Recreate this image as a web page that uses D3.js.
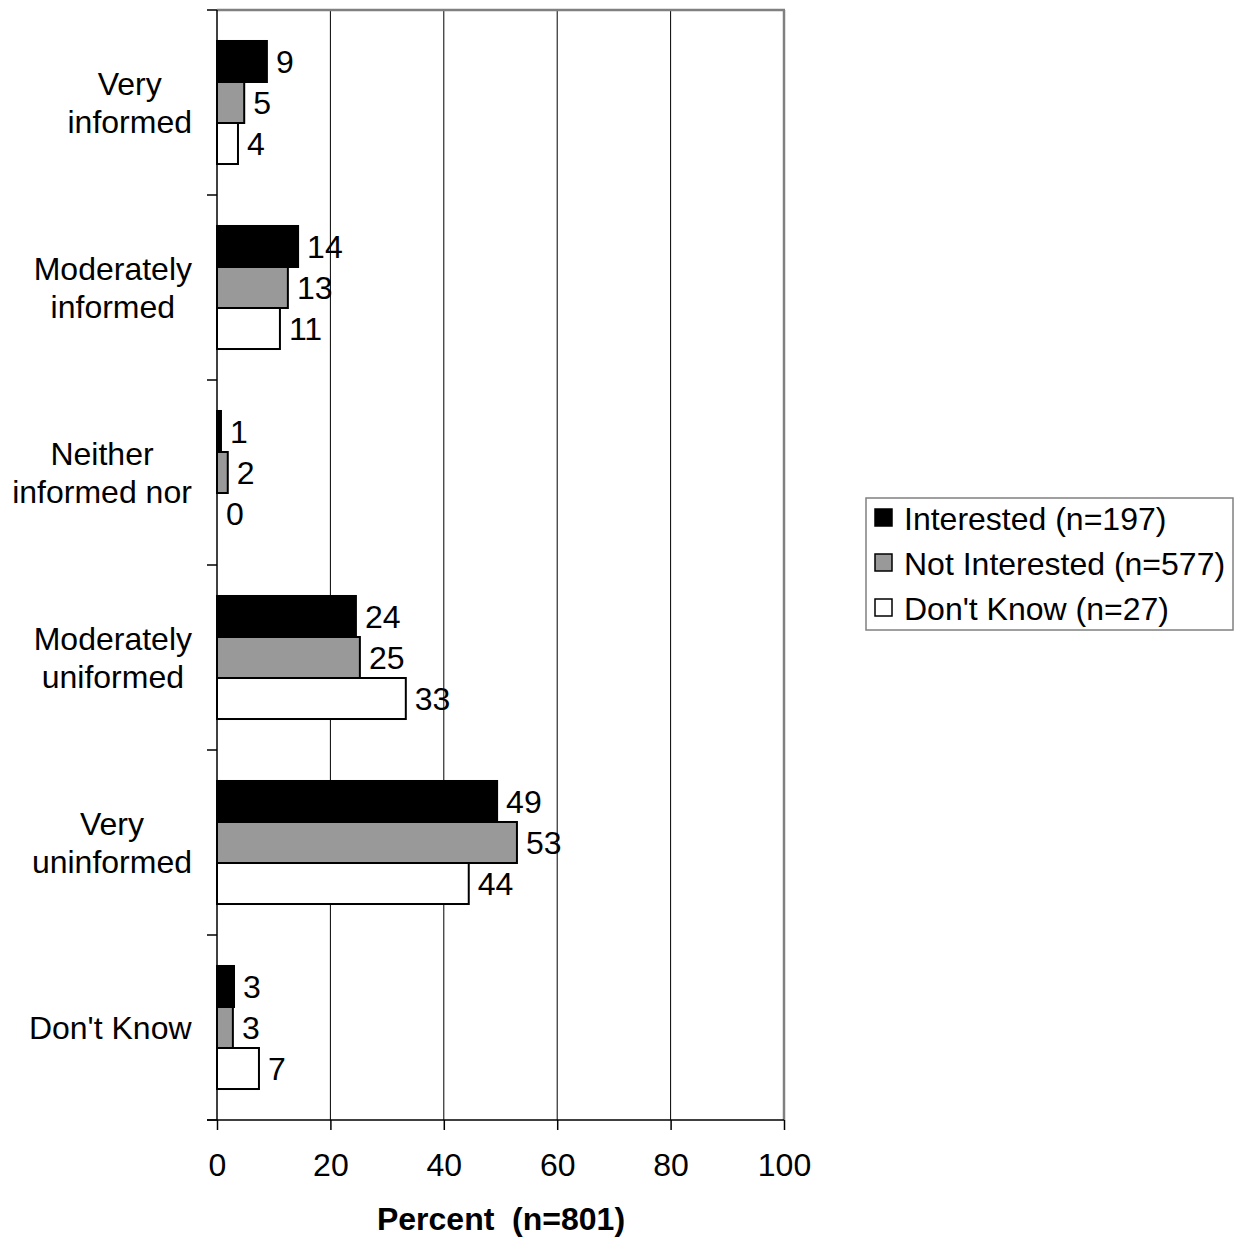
<!DOCTYPE html>
<html><head><meta charset="utf-8">
<script src="https://cdn.jsdelivr.net/npm/d3@7"></script>
<style>body{margin:0;background:#fff}svg{display:block}text{font-family:Arial,"Liberation Sans",sans-serif}</style>
</head><body>
<svg id="c" width="1235" height="1237"></svg>
<script>
const categories = [["Very","informed"],["Moderately","informed"],["Neither","informed nor"],["Moderately","uniformed"],["Very","uninformed"],["Don't Know"]];
const seriesNames = ["Interested (n=197)","Not Interested (n=577)","Don't Know (n=27)"];
const interested = [8.8, 14.3, 0.7, 24.5, 49.4, 3.0];
const notInterested = [4.8, 12.5, 1.9, 25.2, 52.9, 2.8];
const dontKnow = [3.7, 11.1, 0, 33.3, 44.4, 7.4];
const valueLabels = [[9,5,4],[14,13,11],[1,2,0],[24,25,33],[49,53,44],[3,3,7]];
const xTicks = [0,20,40,60,80,100];
const colors = ["#000000","#999999","#ffffff"];

const FS = 32;
const svg = d3.select("#c");
const L=217, R=784, T=10, B=1120;
const x = d3.scaleLinear().domain([0,100]).range([L,R]);
const y = d3.scaleBand().domain(d3.range(categories.length)).range([T,B]).paddingInner(0.335).paddingOuter(0.1675);
const ys = d3.scaleBand().domain([0,1,2]).range([0,y.bandwidth()]);
const series = [interested, notInterested, dontKnow];

// grid
svg.append("g").selectAll("line").data([20,40,60,80]).join("line")
  .attr("x1",d=>x(d)).attr("x2",d=>x(d)).attr("y1",T).attr("y2",B)
  .attr("stroke","#000").attr("stroke-width",1);
// top and right border
svg.append("line").attr("x1",L).attr("x2",R+1).attr("y1",T).attr("y2",T).attr("stroke","#808080").attr("stroke-width",2.5);
svg.append("line").attr("x1",R).attr("x2",R).attr("y1",T).attr("y2",B).attr("stroke","#808080").attr("stroke-width",2.5);

// bars
const g = svg.append("g");
categories.forEach((c,i)=>{
  series.forEach((s,j)=>{
    const v = s[i];
    const by = y(i)+ys(j);
    if (v>0) {
      g.append("rect").attr("x",x(0)).attr("y",by).attr("width",x(v)-x(0)).attr("height",ys.bandwidth())
        .attr("fill",colors[j]).attr("stroke","#000").attr("stroke-width",2);
    }
    g.append("text").attr("x",x(v)+9).attr("y",by+ys.bandwidth()/2).attr("dy","0.36em")
      .attr("font-size",FS).text(d3.format(".0f")(valueLabels[i][j]));
  });
});

// axes
const yAxisG = svg.append("g").attr("transform",`translate(${L},0)`);
yAxisG.append("line").attr("x1",0).attr("x2",0).attr("y1",T).attr("y2",B).attr("stroke","#000").attr("stroke-width",1.5);
const yTickPos = d3.range(categories.length+1).map(i=>T+(B-T)*i/categories.length);
yAxisG.selectAll("line.t").data(yTickPos).join("line").attr("class","t")
  .attr("x1",-10).attr("x2",0).attr("y1",d=>d).attr("y2",d=>d).attr("stroke","#000").attr("stroke-width",1.5);

const xAxis = d3.axisBottom(x).tickValues(xTicks).tickSize(10).tickPadding(23).tickFormat(d3.format("d"));
const xg = svg.append("g").attr("transform",`translate(0,${B})`).call(xAxis);
xg.select(".domain").attr("stroke","#000").attr("stroke-width",1.5).attr("d",`M${L-10},0H${R}`);
xg.selectAll(".tick line").attr("stroke","#000").attr("stroke-width",1.5);
xg.selectAll(".tick text").attr("font-size",FS).attr("font-family","Arial, 'Liberation Sans', sans-serif").attr("fill","#000");

svg.append("text").attr("x",501).attr("y",1230).attr("text-anchor","middle").attr("font-size",FS).attr("font-weight","bold")
  .attr("xml:space","preserve").style("white-space","pre").text("Percent  (n=801)");

// category labels
categories.forEach((lines,i)=>{
  const cy = y(i)+y.bandwidth()/2;
  const t = svg.append("text").attr("font-size",FS).attr("text-anchor","middle");
  const tmp = [];
  lines.forEach((ln,k)=>{
    tmp.push(t.append("tspan").attr("x",0).attr("y",cy + (k-(lines.length-1)/2)*38).attr("dy","0.36em").text(ln));
  });
  const w = t.node().getBBox().width;
  const cx = 192 - w/2;
  tmp.forEach(s=>s.attr("x",cx));
});

// legend
const lg = svg.append("g").attr("transform","translate(866,498)");
lg.append("rect").attr("x",0).attr("y",0).attr("width",367).attr("height",132).attr("fill","#fff").attr("stroke","#808080").attr("stroke-width",1.5);
seriesNames.forEach((n,j)=>{
  const yy = 20 + j*45;
  lg.append("rect").attr("x",9).attr("y",yy-9).attr("width",17).attr("height",17).attr("fill",colors[j]).attr("stroke","#000").attr("stroke-width",1.5);
  lg.append("text").attr("x",38).attr("y",yy).attr("dy","0.36em").attr("font-size",FS).text(n);
});
</script>
</body></html>
